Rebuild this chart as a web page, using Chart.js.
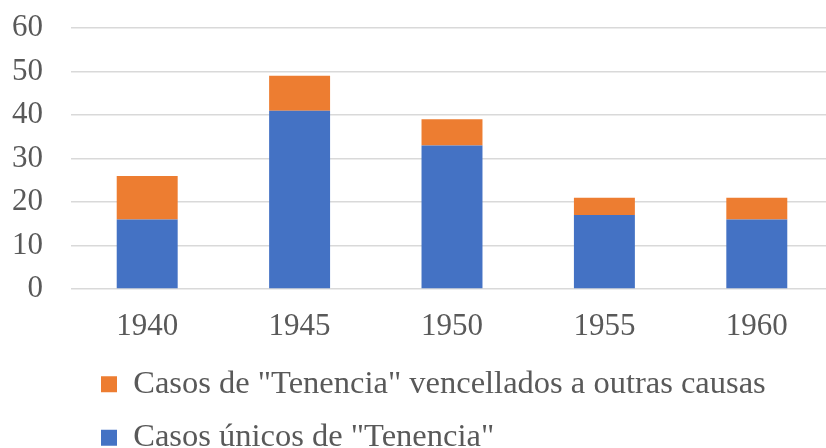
<!DOCTYPE html>
<html>
<head>
<meta charset="utf-8">
<script src="https://cdn.jsdelivr.net/npm/chart.js@4/dist/chart.umd.min.js"></script>
<style>
  html, body { margin: 0; padding: 0; background: #fff; overflow: hidden; }
  #wrap { width: 833px; height: 448px; }
</style>
</head>
<body>
<div id="wrap"><canvas id="chart" width="833" height="448"></canvas></div>
<script>
"use strict";
var years = ['1940', '1945', '1950', '1955', '1960'];
// casos unicos (parte de abaixo)
var unicos = [16, 41, 33, 17, 16];
// casos vencellados a outras causas (parte de arriba)
var vencellados = [10, 8, 6, 4, 5];
var yTicks = [0, 10, 20, 30, 40, 50, 60];

var serif = "'Liberation Serif', 'Times New Roman', serif";
var grey = '#595959';

// move the legend a little to the right, as in the original
var legendShift = {
    id: 'legendShift',
    beforeDraw: function(chart) {
        chart.legend.left = chart.chartArea.left + 9;
    }
};

let ctx = document.getElementById('chart').getContext('2d');

let chart = new Chart(ctx, {
    type: 'bar',
    data: {
        labels: years,
        datasets: [{
            label: 'Casos únicos de "Tenencia"',
            data: unicos,
            backgroundColor: '#4472C4',
            barPercentage: 0.4,
            categoryPercentage: 1
        }, {
            label: 'Casos de "Tenencia" vencellados a outras causas',
            data: vencellados,
            backgroundColor: '#ED7D31',
            barPercentage: 0.4,
            categoryPercentage: 1
        }]
    },
    options: {
        responsive: false,
        animation: false,
        layout: { padding: { top: 28, right: 0, left: 0, bottom: -16 } },
        scales: {
            x: {
                stacked: true,
                grid: { display: false, drawTicks: false },
                border: { display: false },
                ticks: { color: grey, padding: 19, font: { family: serif, size: 31 } },
                afterFit: function(axis) {
                    axis.height = 58;
                    axis.paddingLeft = 0;
                    axis.paddingRight = 0;
                }
            },
            y: {
                stacked: true,
                min: 0,
                max: 60,
                afterBuildTicks: function(axis) {
                    axis.ticks = yTicks.map(function(v) { return { value: v }; });
                },
                grid: { color: '#d9d9d9', lineWidth: 1.5, drawTicks: false },
                border: { display: false },
                ticks: { color: grey, padding: 28, font: { family: serif, size: 31 } },
                afterFit: function(axis) {
                    axis.width = 71;
                    axis.paddingTop = 0;
                    axis.paddingBottom = 0;
                }
            }
        },
        plugins: {
            tooltip: { enabled: false },
            legend: {
                position: 'bottom',
                align: 'start',
                fullSize: false,
                reverse: true,
                labels: {
                    color: grey,
                    boxWidth: 16,
                    boxHeight: 16,
                    padding: 21,
                    font: { family: serif, size: 32.5 }
                }
            }
        }
    },
    plugins: [legendShift]
});
</script>
</body>
</html>
